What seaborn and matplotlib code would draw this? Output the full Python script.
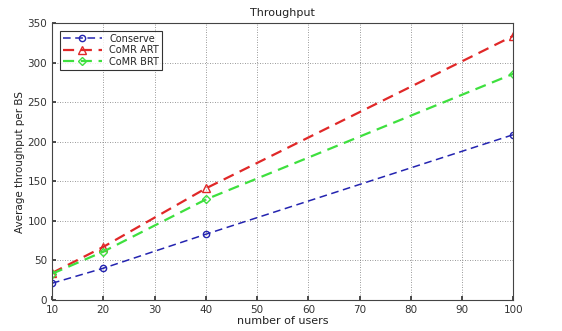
import matplotlib
matplotlib.use("Agg")
import matplotlib.pyplot as plt
import seaborn as sns
import pandas as pd

users = [10, 20, 40, 100]
conserve = [21, 40, 83, 209]
comr_art = [34, 67, 141, 334]
comr_brt = [33, 61, 127, 286]

series_names = ["Conserve", "CoMR ART", "CoMR BRT"]
series_values = [conserve, comr_art, comr_brt]
colors = ["#2424b0", "#e02828", "#3ee03e"]
markers = ["o", "^", "D"]
widths = [1.1, 1.6, 1.6]
msizes = [4.5, 5.5, 4]

sns.set_theme(style="ticks")
plt.rcParams['font.family'] = ['DejaVu Sans']

fig = plt.figure(figsize=(5.62, 3.31), dpi=100)
ax = fig.add_axes([0.0925, 0.094, 0.821, 0.836])

for name, vals, c, m, lw, ms in zip(series_names, series_values, colors, markers, widths, msizes):
    df = pd.DataFrame({"users": users, "throughput": vals})
    sns.lineplot(data=df, x="users", y="throughput", ax=ax, color=c, lw=lw,
                 linestyle=(0, (5, 3)), marker=m, markersize=ms,
                 markerfacecolor="none", markeredgecolor=c, markeredgewidth=1.0,
                 label=name)

ax.set_xlim(10, 100)
ax.set_ylim(0, 350)
ax.set_xticks(range(10, 101, 10))
ax.set_yticks(range(0, 351, 50))
ax.grid(True, linestyle=(0, (1, 2)), color="#777777", linewidth=0.6)
ax.tick_params(direction="in", length=3, labelsize=7.5, colors="#333333", labelcolor="#333333")
for s in ax.spines.values():
    s.set_color("#444444")
    s.set_linewidth(0.8)
ax.set_title("Throughput", fontsize=8, color="#222222", pad=5)
ax.set_xlabel("number of users", fontsize=8, color="#222222", labelpad=1)
ax.set_ylabel("Average throughput per BS", fontsize=7.5, color="#222222", labelpad=2)
leg = ax.legend(loc="upper left", fontsize=7, frameon=True, fancybox=False,
                edgecolor="black", borderpad=0.3, labelspacing=0.15,
                handlelength=4.0, borderaxespad=0.8)
leg.get_frame().set_linewidth(0.8)

fig.savefig("out.png", dpi=100)
